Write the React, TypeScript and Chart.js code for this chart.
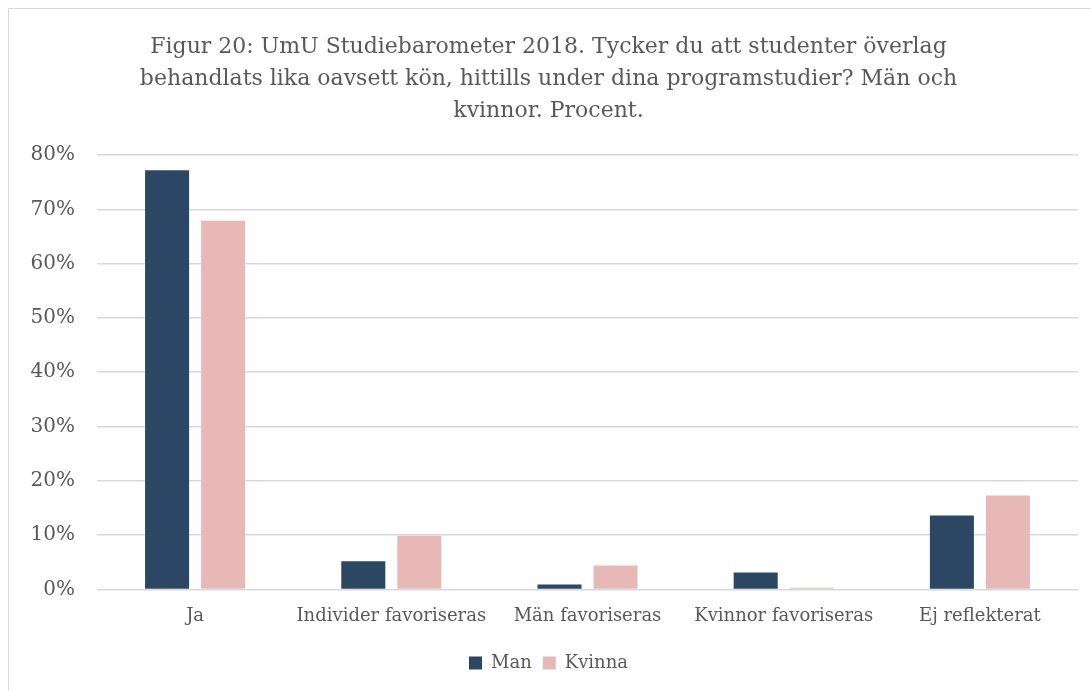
import React, { useEffect, useRef } from "react";
import { Chart, registerables } from "chart.js";

Chart.register(...registerables);

const categories = ["Ja", "Individer favoriseras", "Män favoriseras", "Kvinnor favoriseras", "Ej reflekterat"];
const manValues = [77.2, 5.2, 0.9, 3.1, 13.6];
const kvinnaValues = [67.9, 9.9, 4.4, 0.3, 17.3];
const yTicks = [0, 10, 20, 30, 40, 50, 60, 70, 80];
const titleLines = [
  "Figur 20: UmU Studiebarometer 2018. Tycker du att studenter överlag",
  "behandlats lika oavsett kön, hittills under dina programstudier? Män och",
  "kvinnor. Procent.",
];

const FONT = "Georgia, 'DejaVu Serif', serif";
const TEXT = "#595959";

export default function App() {
  const ref = useRef<HTMLCanvasElement>(null);
  useEffect(() => {
    if (!ref.current) return;
    const chart = new Chart(ref.current, {
      type: "bar",
      data: {
        labels: categories,
        datasets: [
          { label: "Man", data: manValues, backgroundColor: "#2C4763", categoryPercentage: 0.571, barPercentage: 0.786 },
          { label: "Kvinna", data: kvinnaValues, backgroundColor: "#E8B8B7", categoryPercentage: 0.571, barPercentage: 0.786 },
        ],
      },
      options: {
        responsive: false,
        animation: false,
        layout: { padding: { left: 10, right: 13, top: 22, bottom: 9 } },
        plugins: {
          title: {
            display: true,
            text: titleLines,
            color: TEXT,
            font: { family: FONT, size: 22, weight: "normal", lineHeight: 1.455 },
            padding: { top: 0, bottom: 28 },
          },
          legend: {
            position: "bottom",
            labels: {
              color: TEXT,
              font: { family: FONT, size: 18 },
              boxWidth: 13,
              boxHeight: 13,
              padding: 11,
            },
          },
          tooltip: { enabled: false },
        },
        scales: {
          x: {
            grid: { display: false, drawTicks: false },
            border: { display: false },
            ticks: { color: TEXT, font: { family: FONT, size: 18 }, padding: 16 },
          },
          y: {
            min: 0,
            max: 80,
            afterBuildTicks: (axis: any) => {
              axis.ticks = yTicks.map((v) => ({ value: v }));
            },
            afterFit: (axis: any) => {
              axis.width = 78;
            },
            grid: { color: "#D9D9D9", lineWidth: 1.5, drawTicks: false },
            border: { display: false },
            ticks: {
              color: TEXT,
              font: { family: FONT, size: 20 },
              padding: 22,
              callback: (v: any) => v + "%",
            },
          },
        },
      },
    });
    return () => chart.destroy();
  }, []);
  return (
    <div
      style={{
        position: "absolute",
        left: 8,
        top: 8,
        width: 1082,
        height: 682,
        borderLeft: "1px solid #D9D9D9",
        borderTop: "1px solid #D9D9D9",
        background: "#fff",
      }}
    >
      <canvas ref={ref} width={1082} height={682} style={{ display: "block" }} />
    </div>
  );
}
